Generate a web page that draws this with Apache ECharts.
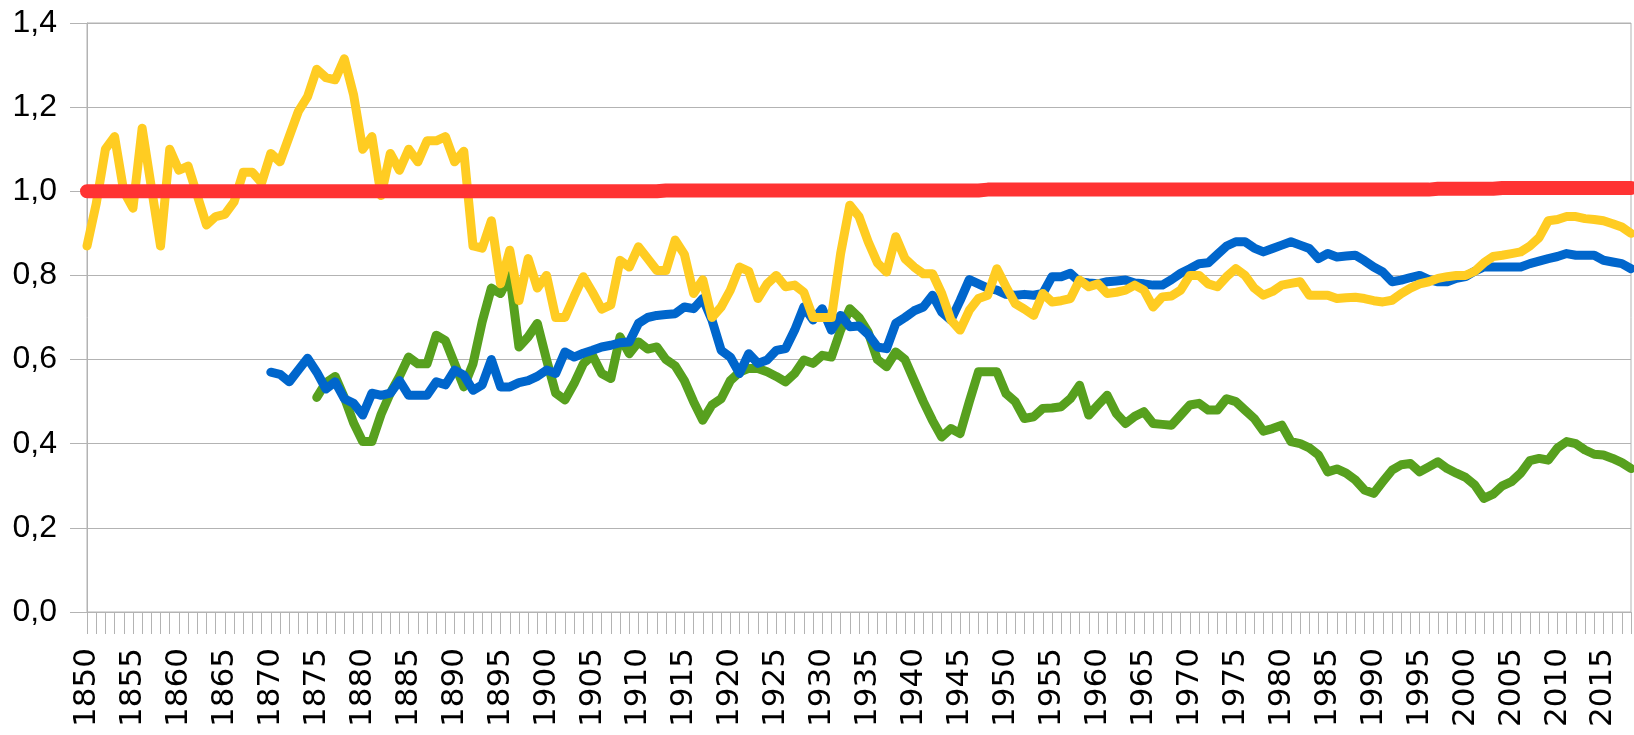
<!DOCTYPE html>
<html>
<head>
<meta charset="utf-8">
<script src="https://cdn.jsdelivr.net/npm/echarts@6/dist/echarts.min.js"></script>
<style>
    html, body { margin: 0; padding: 0; background: #fff; }
    #main { width: 1634px; height: 735px; }
</style>
</head>
<body>
<div id="main"></div>
<script>
// years on the x axis, 1850..2018
var firstYear = 1850;
var lastYear = 2018;
var years = [];
for (var y = firstYear; y <= lastYear; y++) years.push(String(y));

// red reference line (1850..2018)
var redValues = [
    1.000, 1.000, 1.000, 1.000, 1.000, 1.000, 1.000, 1.000, 1.000, 1.000,
    1.000, 1.000, 1.000, 1.000, 1.000, 1.000, 1.000, 1.000, 1.000, 1.000,
    1.000, 1.000, 1.000, 1.000, 1.000, 1.000, 1.000, 1.000, 1.000, 1.000,
    1.000, 1.000, 1.000, 1.000, 1.000, 1.000, 1.000, 1.000, 1.000, 1.000,
    1.000, 1.000, 1.000, 1.000, 1.000, 1.000, 1.000, 1.000, 1.000, 1.000,
    1.000, 1.000, 1.000, 1.000, 1.000, 1.000, 1.000, 1.000, 1.000, 1.000,
    1.000, 1.000, 1.000, 1.002, 1.002, 1.002, 1.002, 1.002, 1.002, 1.002,
    1.002, 1.002, 1.002, 1.002, 1.002, 1.002, 1.002, 1.002, 1.002, 1.002,
    1.002, 1.002, 1.002, 1.002, 1.002, 1.002, 1.002, 1.002, 1.002, 1.002,
    1.002, 1.002, 1.002, 1.002, 1.002, 1.002, 1.002, 1.002, 1.004, 1.004,
    1.004, 1.004, 1.004, 1.004, 1.004, 1.004, 1.004, 1.004, 1.004, 1.004,
    1.004, 1.004, 1.004, 1.004, 1.004, 1.004, 1.004, 1.004, 1.004, 1.004,
    1.004, 1.004, 1.004, 1.004, 1.004, 1.004, 1.004, 1.004, 1.004, 1.004,
    1.004, 1.004, 1.004, 1.004, 1.004, 1.004, 1.004, 1.004, 1.004, 1.004,
    1.004, 1.004, 1.004, 1.004, 1.004, 1.004, 1.004, 1.006, 1.006, 1.006,
    1.006, 1.006, 1.006, 1.006, 1.008, 1.008, 1.008, 1.008, 1.008, 1.008,
    1.008, 1.008, 1.008, 1.008, 1.008, 1.008, 1.008, 1.008, 1.008
];

// yellow series (1850..2018)
var yellowValues = [
    0.87, 0.97, 1.10, 1.13, 1.00, 0.96, 1.15, 1.01, 0.87, 1.10,
    1.05, 1.06, 0.99, 0.92, 0.94, 0.945, 0.975, 1.045, 1.045, 1.02,
    1.09, 1.07, 1.13, 1.19, 1.225, 1.29, 1.27, 1.265, 1.315, 1.23,
    1.10, 1.13, 0.99, 1.09, 1.05, 1.10, 1.07, 1.12, 1.12, 1.13,
    1.07, 1.095, 0.87, 0.865, 0.93, 0.78, 0.86, 0.74, 0.84, 0.77,
    0.80, 0.70, 0.70, 0.75, 0.797, 0.76, 0.72, 0.73, 0.836, 0.82,
    0.868, 0.84, 0.812, 0.812, 0.884, 0.85, 0.757, 0.79, 0.70, 0.725,
    0.765, 0.82, 0.81, 0.745, 0.78, 0.80, 0.773, 0.777, 0.76, 0.70,
    0.70, 0.70, 0.852, 0.967, 0.94, 0.88, 0.83, 0.808, 0.892, 0.84,
    0.82, 0.804, 0.804, 0.757, 0.694, 0.67, 0.717, 0.745, 0.753, 0.816,
    0.773, 0.733, 0.72, 0.705, 0.757, 0.737, 0.74, 0.745, 0.789, 0.773,
    0.78, 0.757, 0.76, 0.765, 0.777, 0.765, 0.725, 0.749, 0.751, 0.765,
    0.80, 0.80, 0.78, 0.773, 0.797, 0.816, 0.80, 0.77, 0.753, 0.762,
    0.777, 0.781, 0.785, 0.753, 0.753, 0.753, 0.745, 0.747, 0.748, 0.745,
    0.74, 0.737, 0.741, 0.757, 0.77, 0.78, 0.785, 0.793, 0.797, 0.80,
    0.80, 0.81, 0.83, 0.845, 0.848, 0.852, 0.856, 0.87, 0.89, 0.93,
    0.933, 0.94, 0.94, 0.935, 0.933, 0.93, 0.923, 0.915, 0.90
];

// blue series (1870..2018)
var blueStart = 1870;
var blueValues = [
    0.57, 0.565, 0.547, 0.575, 0.603, 0.57, 0.53, 0.547, 0.507, 0.496,
    0.468, 0.52, 0.515, 0.52, 0.55, 0.515, 0.515, 0.515, 0.547, 0.54,
    0.575, 0.563, 0.527, 0.54, 0.60, 0.535, 0.535, 0.545, 0.55, 0.56,
    0.575, 0.567, 0.618, 0.606, 0.615, 0.622, 0.63, 0.634, 0.64, 0.642,
    0.686, 0.70, 0.705, 0.707, 0.709, 0.725, 0.721, 0.745, 0.694, 0.622,
    0.606, 0.567, 0.614, 0.591, 0.599, 0.622, 0.626, 0.67, 0.725, 0.694,
    0.721, 0.67, 0.705, 0.678, 0.68, 0.66, 0.63, 0.626, 0.686, 0.70,
    0.716, 0.725, 0.753, 0.713, 0.694, 0.74, 0.79, 0.78, 0.77, 0.765,
    0.755, 0.753, 0.755, 0.753, 0.757, 0.797, 0.797, 0.805, 0.785, 0.782,
    0.78, 0.785, 0.787, 0.789, 0.782, 0.78, 0.777, 0.777, 0.79, 0.805,
    0.816, 0.828, 0.83, 0.85, 0.87, 0.88, 0.88, 0.865, 0.856, 0.864,
    0.872, 0.88, 0.872, 0.864, 0.84, 0.852, 0.844, 0.846, 0.848, 0.835,
    0.82, 0.808, 0.785, 0.789, 0.795, 0.80, 0.79, 0.785, 0.785, 0.793,
    0.797, 0.81, 0.82, 0.82, 0.82, 0.82, 0.82, 0.828, 0.834, 0.84,
    0.845, 0.852, 0.848, 0.848, 0.848, 0.836, 0.832, 0.828, 0.816
];

// green series (1875..2018)
var greenStart = 1875;
var greenValues = [
    0.51, 0.545, 0.56, 0.51, 0.45,
    0.405, 0.405, 0.47, 0.52, 0.56, 0.606, 0.59, 0.59, 0.658, 0.645,
    0.59, 0.535, 0.59, 0.69, 0.77, 0.757, 0.80, 0.63, 0.654, 0.686,
    0.60, 0.52, 0.504, 0.543, 0.59, 0.61, 0.567, 0.555, 0.654, 0.614,
    0.642, 0.625, 0.63, 0.60, 0.585, 0.55, 0.50, 0.456, 0.492, 0.507,
    0.55, 0.57, 0.579, 0.579, 0.571, 0.56, 0.547, 0.567, 0.599, 0.591,
    0.61, 0.606, 0.67, 0.721, 0.70, 0.665, 0.60, 0.583, 0.618, 0.60,
    0.55, 0.50, 0.455, 0.416, 0.436, 0.424, 0.50, 0.571, 0.571, 0.571,
    0.519, 0.50, 0.46, 0.464, 0.484, 0.485, 0.488, 0.507, 0.539, 0.468,
    0.492, 0.515, 0.472, 0.448, 0.465, 0.476, 0.448, 0.446, 0.444, 0.468,
    0.492, 0.496, 0.48, 0.48, 0.507, 0.50, 0.48, 0.46, 0.43, 0.436,
    0.444, 0.405, 0.40, 0.39, 0.373, 0.333, 0.34, 0.33, 0.314, 0.29,
    0.282, 0.31, 0.337, 0.35, 0.353, 0.333, 0.345, 0.357, 0.341, 0.33,
    0.32, 0.302, 0.27, 0.28, 0.30, 0.31, 0.33, 0.36, 0.365, 0.361,
    0.39, 0.405, 0.40, 0.385, 0.375, 0.373, 0.365, 0.355, 0.341
];

// y axis ticks
var yTicks = [0, 0.2, 0.4, 0.6, 0.8, 1.0, 1.2, 1.4];

function alignTo(start, values) {
    return years.map(function (yr) {
        var k = Number(yr) - start;
        return k >= 0 && k < values.length ? values[k] : null;
    });
}

var gridGrey = '#b3b3b3';

function lineSeries(name, data, color, width) {
    return {
        name: name,
        type: 'line',
        data: data,
        showSymbol: false,
        symbol: 'none',
        lineStyle: { color: color, width: width, join: 'round', cap: 'round' },
        itemStyle: { color: color }
    };
}

var myChart = echarts.init(document.getElementById('main'));
myChart.setOption({
    animation: false,
    backgroundColor: '#ffffff',
    grid: {
        left: 87,
        right: 3,
        top: 23,
        bottom: 123,
        show: true,
        borderColor: gridGrey,
        borderWidth: 1
    },
    xAxis: {
        type: 'category',
        data: years,
        boundaryGap: false,
        axisLine: { lineStyle: { color: gridGrey, width: 1 } },
        axisTick: { interval: 0, length: 22, lineStyle: { color: gridGrey } },
        axisLabel: {
            interval: 4,
            rotate: 90,
            margin: 36,
            color: '#000',
            fontFamily: 'DejaVu Sans',
            fontSize: 31
        },
        splitLine: { show: false }
    },
    yAxis: {
        type: 'value',
        min: yTicks[0],
        max: yTicks[yTicks.length - 1],
        interval: 0.2,
        axisLine: { show: true, lineStyle: { color: gridGrey, width: 1 } },
        axisTick: { show: true, length: 17, lineStyle: { color: gridGrey } },
        axisLabel: {
            margin: 30,
            color: '#000',
            fontFamily: 'Liberation Sans',
            fontSize: 32,
            formatter: function (v) { return v.toFixed(1).replace('.', ','); }
        },
        splitLine: { lineStyle: { color: gridGrey, width: 1 } }
    },
    series: [
        lineSeries('green', alignTo(greenStart, greenValues), '#57a01e', 9),
        lineSeries('blue', alignTo(blueStart, blueValues), '#0066cc', 9),
        lineSeries('yellow', alignTo(firstYear, yellowValues), '#ffcc22', 9),
        lineSeries('red', alignTo(firstYear, redValues), '#ff3333', 14)
    ]
});

window.addEventListener('resize', function () {
    myChart.resize();
});
</script>
</body>
</html>
